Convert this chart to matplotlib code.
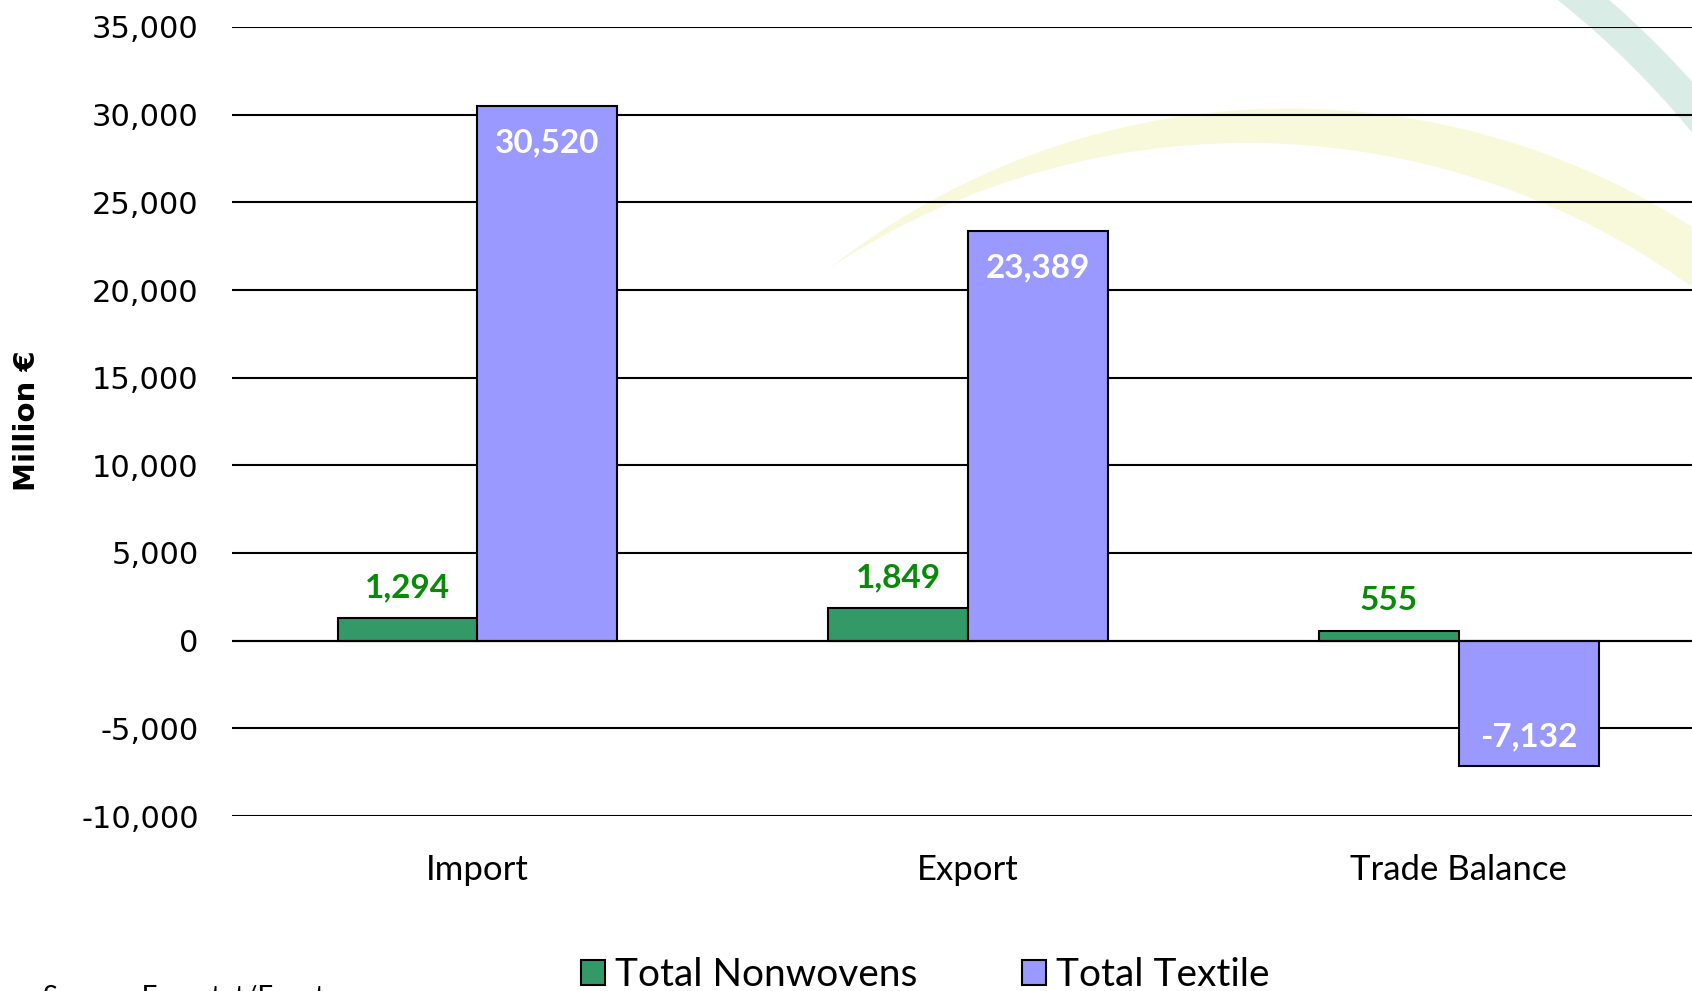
import numpy as np
import matplotlib.pyplot as plt
from matplotlib.patches import Polygon

categories = ["Import", "Export", "Trade Balance"]
nonwovens = [1294, 1849, 555]
textile = [30520, 23389, -7132]
series_names = ["Total Nonwovens", "Total Textile"]
yticks = [-10000, -5000, 0, 5000, 10000, 15000, 20000, 25000, 30000, 35000]

green = "#339966"
purple = "#9999ff"
label_green = "#078a07"

W, H = 1692, 991
fig = plt.figure(figsize=(W / 100, H / 100), dpi=100)

# faint swoosh watermark behind the chart (figure pixels, y up)
t_out = np.radians(np.linspace(128.1, 54.6, 200))
t_in = np.radians(np.linspace(51.5, 123.2, 200))
outer = np.column_stack([1289.6 + 743 * np.cos(t_out), 139.4 + 743 * np.sin(t_out)])
inner = np.column_stack([1247 + 759.7 * np.cos(t_in), 88.3 + 759.7 * np.sin(t_in)])
swoosh = np.vstack([outer, inner]) / [W, H]
fig.add_artist(Polygon(swoosh, closed=True, facecolor="#f7f9da", edgecolor="none",
                       transform=fig.transFigure, zorder=0))
a = np.radians(np.linspace(-60, -28, 100))
teal_in = np.column_stack([1000 + 895 * np.cos(a), 700 + 895 * np.sin(a)])
teal_out = np.column_stack([1000 + 928 * np.cos(a[::-1]), 700 + 928 * np.sin(a[::-1])])
teal = np.vstack([teal_in, teal_out])
teal[:, 1] = H - teal[:, 1]
fig.add_artist(Polygon(teal / [W, H], closed=True, facecolor="#d9ece6", edgecolor="none",
                       transform=fig.transFigure, zorder=0))

ax = fig.add_axes([232 / W, 1 - 816 / H, 1 - 232 / W, (816 - 27) / H])
ax.patch.set_alpha(0)

x = np.arange(len(categories))
w = 0.285
b1 = ax.bar(x - w / 2, nonwovens, w, color=green, edgecolor="black", linewidth=1.5,
            label=series_names[0], zorder=3)
b2 = ax.bar(x + w / 2, textile, w, color=purple, edgecolor="black", linewidth=1.5,
            label=series_names[1], zorder=3)

for rect, v in zip(b1, nonwovens):
    ax.annotate(f"{v:,}", (rect.get_x() + rect.get_width() / 2, v), xytext=(0, 22),
                textcoords="offset points", ha="center", va="center",
                fontsize=24, fontweight="bold", color=label_green, family="Lato")
for rect, v in zip(b2, textile):
    off = -27 if v > 0 else 21
    ax.annotate(f"{v:,}", (rect.get_x() + rect.get_width() / 2, v), xytext=(0, off),
                textcoords="offset points", ha="center", va="center",
                fontsize=24, fontweight="bold", color="white", family="Lato")

ax.set_ylim(-10000, 35000)
ax.set_xlim(-0.5, 2.475)
ax.set_yticks(yticks)
ax.set_yticklabels([f"{v:,}" for v in yticks], fontsize=22, family="DejaVu Sans")
ax.set_xticks(x)
ax.set_xticklabels(categories, fontsize=25, family="Lato")
ax.tick_params(axis="y", length=0, pad=24)
ax.tick_params(axis="x", length=0, pad=27)
ax.grid(axis="y", color="black", linewidth=1.5, zorder=1)
for s in ax.spines.values():
    s.set_visible(False)
ax.axhline(0, color="black", linewidth=1.5, zorder=4)

fig.text(27 / W, 1 - 421 / H, "Million €", rotation=90, ha="center", va="center",
         fontsize=21, fontweight="bold", family=["Liberation Sans Narrow", "DejaVu Sans"])

fig.legend(handles=[b1, b2], loc="center", bbox_to_anchor=(925 / W, 16 / H), ncol=2,
           frameon=False, prop={"family": "Lato", "size": 28}, handlelength=0.62,
           handleheight=0.62, handletextpad=0.25, columnspacing=2.7)

fig.text(43 / W, 6 / H, "Source: Eurostat/Eurotex", ha="left", va="top", fontsize=20,
         family="Lato")

fig.savefig("out.png", dpi=100)
